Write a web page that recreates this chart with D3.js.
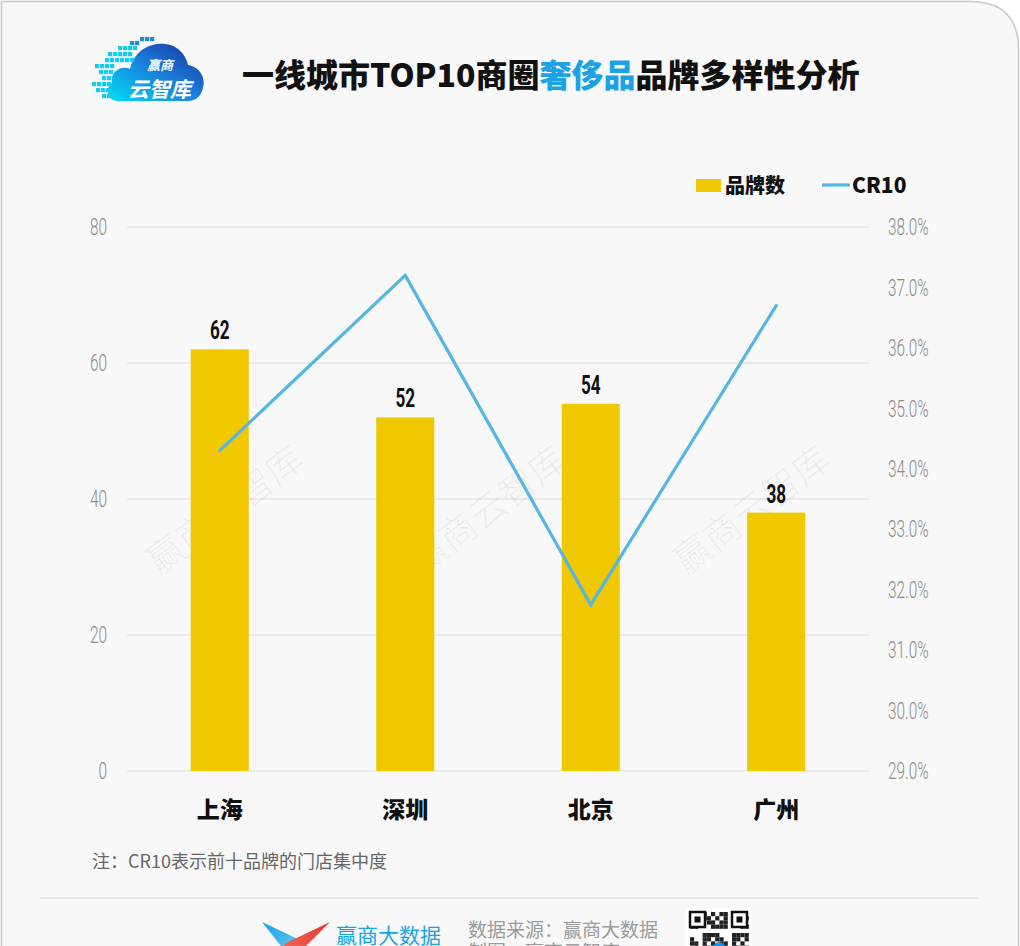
<!DOCTYPE html>
<html>
<head>
<meta charset="utf-8">
<script src="https://cdn.jsdelivr.net/npm/d3@7/dist/d3.min.js"></script>
<style>
  html, body { margin: 0; padding: 0; background: #fff; }
  svg { display: block; }
  text { font-family: "Noto Sans CJK SC", "Noto Sans", sans-serif; }
  .num { font-family: "Roboto", "Noto Sans", sans-serif; }
</style>
</head>
<body>
<svg id="chart" width="1020" height="946"></svg>
<script>
// data
var cities = ["上海", "深圳", "北京", "广州"];
var brandCount = [62, 52, 54, 38];
var cr10 = [34.3, 37.2, 31.75, 36.7];
var leftTicks = [0, 20, 40, 60, 80];
var rightTicks = [29, 30, 31, 32, 33, 34, 35, 36, 37, 38];

var svg = d3.select("#chart");

// page frame with rounded top-right corner
svg.append("path")
    .attr("d", "M1.5,1000 L1.5,1.5 L970,1.5 Q1018.5,1.5 1018.5,50 L1018.5,1000")
    .style("fill", "#f8f8f8")
    .style("stroke", "#c8c8c8")
    .style("stroke-width", 1.5);

// scales
var x = d3.scaleBand().domain(cities).range([127, 869])
    .paddingInner(0.687).paddingOuter(0.3435);
var yL = d3.scaleLinear().domain([0, 80]).range([771, 227]);
var yR = d3.scaleLinear().domain([29, 38]).range([771, 227]);

// grid lines
svg.append("g").selectAll("line").data(leftTicks).enter().append("line")
    .attr("x1", 127).attr("x2", 869)
    .attr("y1", function(d){ return yL(d); })
    .attr("y2", function(d){ return yL(d); })
    .style("stroke", "#dcdcdc")
    .style("stroke-width", 1.2);

// left axis (condensed thin digits)
var axL = svg.append("g").attr("transform", "translate(107,0)")
    .call(d3.axisLeft(yL).tickValues(leftTicks).tickSize(0).tickPadding(0));
axL.select(".domain").remove();
axL.selectAll("text")
    .attr("class", "num")
    .attr("transform", "scale(0.64,1)")
    .style("font-size", "24px")
    .style("font-weight", 300)
    .style("fill", "#8c8c8c");

// right axis
var axR = svg.append("g").attr("transform", "translate(888,0)")
    .call(d3.axisRight(yR).tickValues(rightTicks).tickSize(0).tickPadding(0)
        .tickFormat(function(d){ return d.toFixed(1) + "%"; }));
axR.select(".domain").remove();
axR.selectAll("text")
    .attr("class", "num")
    .attr("transform", "scale(0.64,1)")
    .style("font-size", "24px")
    .style("font-weight", 300)
    .style("fill", "#8c8c8c");

// watermarks
var wmX = [225, 488, 752];
svg.append("g").selectAll("text").data(wmX).enter().append("text")
    .attr("transform", function(d){ return "translate(" + d + ",510) rotate(-37)"; })
    .attr("text-anchor", "middle")
    .attr("dy", "0.35em")
    .style("font-size", "37px")
    .style("font-weight", 300)
    .style("fill", "#000")
    .style("fill-opacity", 0.06)
    .text("赢商云智库");

// bars
svg.append("g").selectAll("rect").data(brandCount).enter().append("rect")
    .attr("x", function(d, i){ return x(cities[i]); })
    .attr("y", function(d){ return yL(d); })
    .attr("width", x.bandwidth())
    .attr("height", function(d){ return yL(0) - yL(d); })
    .style("fill", "#f0c800");

// bar value labels (condensed bold)
svg.append("g").selectAll("text").data(brandCount).enter().append("text")
    .attr("class", "num")
    .attr("transform", function(d, i){
        return "translate(" + (x(cities[i]) + x.bandwidth() / 2) + "," + (yL(d) - 10) + ") scale(0.66,1)";
    })
    .attr("text-anchor", "middle")
    .style("font-size", "26px")
    .style("font-weight", "bold")
    .style("fill", "#111")
    .text(function(d){ return d; });

// CR10 line
var line = d3.line()
    .x(function(d, i){ return x(cities[i]) + x.bandwidth() / 2; })
    .y(function(d){ return yR(d); });
svg.append("path")
    .datum(cr10)
    .attr("d", line)
    .style("fill", "none")
    .style("stroke", "#55b6e6")
    .style("stroke-width", 3.2)
    .style("stroke-linejoin", "miter")
    .style("stroke-linecap", "round");

// category labels
svg.append("g").selectAll("text").data(cities).enter().append("text")
    .attr("x", function(d){ return x(d) + x.bandwidth() / 2; })
    .attr("y", 818)
    .attr("text-anchor", "middle")
    .style("font-size", "23px")
    .style("font-weight", 900)
    .style("fill", "#111")
    .text(function(d){ return d; });

// legend
svg.append("rect").attr("x", 696).attr("y", 179).attr("width", 25).attr("height", 13)
    .style("fill", "#f0c800");
svg.append("text").attr("x", 725).attr("y", 193)
    .style("font-size", "20px").style("font-weight", 900).style("fill", "#111")
    .text("品牌数");
svg.append("line").attr("x1", 822).attr("x2", 850).attr("y1", 185).attr("y2", 185)
    .style("stroke", "#55b6e6").style("stroke-width", 3.2);
svg.append("text").attr("x", 852).attr("y", 193)
    .style("font-size", "21px").style("font-weight", 900).style("fill", "#111")
    .text("CR10");

// title
var title = svg.append("text").attr("x", 242).attr("y", 87)
    .style("font-size", "32px").style("font-weight", 900).style("fill", "#111");
title.append("tspan").text("一线城市TOP10商圈");
title.append("tspan").style("fill", "#1ba3e6").text("奢侈品");
title.append("tspan").text("品牌多样性分析");

// logo (cloud with pixel blocks)
var defs = svg.append("defs");
var grad = defs.append("linearGradient").attr("id", "cloudGrad")
    .attr("x1", "0%").attr("y1", "100%").attr("x2", "100%").attr("y2", "0%");
grad.append("stop").attr("offset", "0%").attr("stop-color", "#00e0f5");
grad.append("stop").attr("offset", "55%").attr("stop-color", "#1a78d8");
grad.append("stop").attr("offset", "100%").attr("stop-color", "#1a2f98");

var logo = svg.append("g");
logo.append("path")
    .attr("d", "M118,101 C108,101 104,89 112,83 C110,71 122,65 130,69 C134,51 150,42 165,44 C178,45 186,55 188,65 C200,67 206,78 203,88 C201,96 196,101 188,101 Z")
    .style("fill", "url(#cloudGrad)");
var blocks = [
    [140,37],[145,37],[150,37],
    [130,41],[135,41],
    [118,46],[123,46],[128,46],[133,46],
    [108,52],[113,52],[118,52],[123,52],[128,52],
    [105,58],[110,58],[115,58],[120,58],[125,58],[130,58],
    [95,64],[100,64],[105,64],[110,64],
    [99,70],[104,70],[109,70],
    [102,76],[107,76],
    [92,82],[97,82],[102,82],[107,82],
    [96,88],[101,88],[106,88],
    [102,94],[107,94],[112,94]
];
logo.selectAll("rect.blk").data(blocks).enter().append("rect")
    .attr("class", "blk")
    .attr("x", function(d){ return d[0]; })
    .attr("y", function(d){ return d[1]; })
    .attr("width", 4.2).attr("height", 4.2)
    .style("fill", function(d){ return d[1] < 45 ? "#1a8fd8" : "#16cdf0"; });
logo.append("text").attr("x", 147).attr("y", 70)
    .style("font-size", "13px").style("font-weight", 700).style("font-style", "italic")
    .style("fill", "#fff").text("赢商");
logo.append("text").attr("x", 128).attr("y", 97)
    .style("font-size", "21px").style("font-weight", 700).style("font-style", "italic")
    .style("fill", "#fff").text("云智库");

// note
svg.append("text").attr("x", 92).attr("y", 868)
    .style("font-size", "18px").style("fill", "#666")
    .text("注：CR10表示前十品牌的门店集中度");

// separator
svg.append("line").attr("x1", 40).attr("x2", 978).attr("y1", 898).attr("y2", 898)
    .style("stroke", "#e3e3e3").style("stroke-width", 1.5);

// footer brand
var fgBlue = defs.append("linearGradient").attr("id", "fBlue")
    .attr("x1", "0%").attr("y1", "0%").attr("x2", "100%").attr("y2", "100%");
fgBlue.append("stop").attr("offset", "0%").attr("stop-color", "#1b9fe8");
fgBlue.append("stop").attr("offset", "100%").attr("stop-color", "#6fd0f5");
var fgRed = defs.append("linearGradient").attr("id", "fRed")
    .attr("x1", "100%").attr("y1", "0%").attr("x2", "0%").attr("y2", "100%");
fgRed.append("stop").attr("offset", "0%").attr("stop-color", "#e8332a");
fgRed.append("stop").attr("offset", "100%").attr("stop-color", "#f07060");
svg.append("path").attr("d", "M262,922 L300,940 L292,960 Z").style("fill", "url(#fBlue)");
svg.append("path").attr("d", "M330,922 L292,960 L284,944 Z").style("fill", "url(#fRed)");
svg.append("text").attr("x", 336).attr("y", 943)
    .style("font-size", "21px").style("fill", "#1ba3e6").text("赢商大数据");
svg.append("text").attr("x", 468).attr("y", 937)
    .style("font-size", "19px").style("fill", "#9a9a9a").text("数据来源：赢商大数据");
svg.append("text").attr("x", 468).attr("y", 959)
    .style("font-size", "19px").style("fill", "#9a9a9a").text("制图：赢商云智库");

// QR-like badge
var qr = svg.append("g").attr("transform", "translate(686,908)");
qr.append("rect").attr("width", 66).attr("height", 60).style("fill", "#fff");
var cells = [];
for (var r = 0; r < 14; r++) {
  for (var c = 0; c < 14; c++) {
    if (((r * 5 + c * 3 + r * c) % 7) < 4) cells.push([c, r]);
  }
}
qr.selectAll("rect.cell").data(cells).enter().append("rect")
    .attr("class", "cell")
    .attr("x", function(d){ return 4 + d[0] * 4.2; })
    .attr("y", function(d){ return 4 + d[1] * 4.2; })
    .attr("width", 4.2).attr("height", 4.2)
    .style("fill", "#222");
[[4, 4], [46, 4]].forEach(function(p){
  qr.append("rect").attr("x", p[0]).attr("y", p[1]).attr("width", 15).attr("height", 15)
      .style("fill", "#fff").style("stroke", "#111").style("stroke-width", 2.5);
  qr.append("rect").attr("x", p[0] + 4.5).attr("y", p[1] + 4.5).attr("width", 6).attr("height", 6)
      .style("fill", "#111");
});
qr.append("circle").attr("cx", 33).attr("cy", 40).attr("r", 6).style("fill", "#1b8fe0");
</script>
</body>
</html>
